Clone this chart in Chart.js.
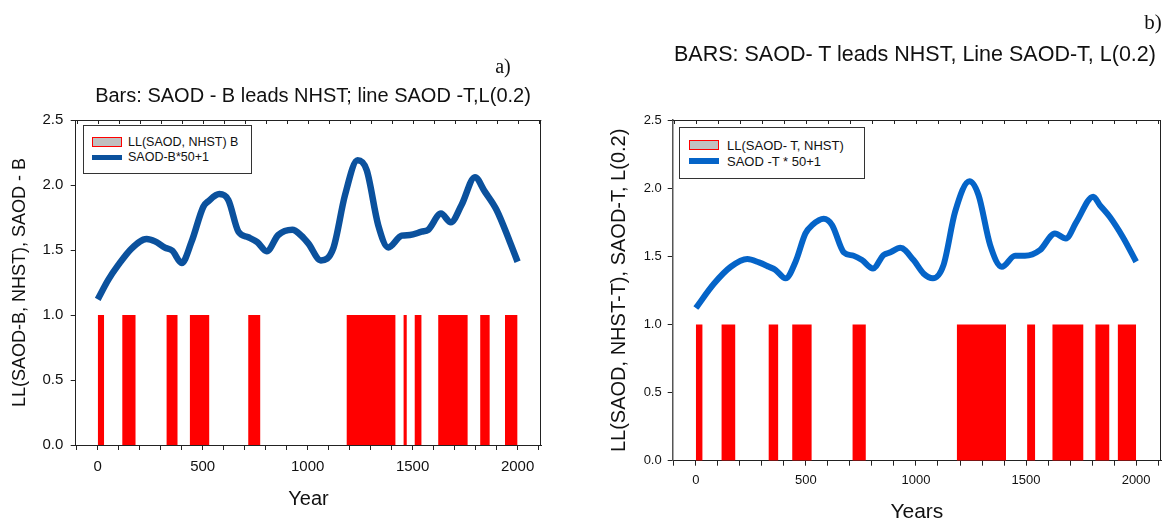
<!DOCTYPE html>
<html><head><meta charset="utf-8">
<script src="https://cdn.jsdelivr.net/npm/chart.js@4.4.1/dist/chart.umd.min.js"></script>
<style>
body{margin:0;background:#fff;}
#wrap{position:relative;width:1167px;height:523px;overflow:hidden;font-family:"Liberation Sans",Arial,sans-serif;color:#111;background:#fff;}
canvas{position:absolute;top:0;}
.t{position:absolute;white-space:nowrap;line-height:1;transform:translate(-50%,-50%);}
.serif{font-family:"Liberation Serif","Times New Roman",serif;}
.lt{position:absolute;white-space:nowrap;line-height:1;transform:translateY(-50%);}
.box{position:absolute;border:1px solid #333;box-sizing:border-box;background:#fff;}
.sw{position:absolute;box-sizing:border-box;}
</style>
</head><body>
<div id="wrap">
  <canvas id="c1" width="590" height="523" style="left:0"></canvas>
  <canvas id="c2" width="577" height="523" style="left:590px"></canvas>

  <div class="t serif" style="left:503px;top:66px;font-size:20px;">a)</div>
  <div class="t" style="left:313px;top:95px;font-size:20px;">Bars: SAOD - B leads NHST; line SAOD -T,L(0.2)</div>
  <div class="t serif" style="left:1153px;top:22px;font-size:21px;">b)</div>
  <div class="t" style="left:915px;top:55px;font-size:21.5px;">BARS: SAOD- T leads NHST, Line SAOD-T, L(0.2)</div>

  <div class="box" style="left:83px;top:125px;width:169px;height:49px;"></div>
  <div class="sw" style="left:92px;top:137px;width:30px;height:10px;background:#c0c0c0;border:1px solid #ff0000;"></div>
  <div class="sw" style="left:92px;top:154.5px;width:30px;height:5px;background:#0b519d;"></div>
  <div class="lt" style="left:128px;top:142px;font-size:12.5px;">LL(SAOD, NHST) B</div>
  <div class="lt" style="left:128px;top:157px;font-size:12.5px;">SAOD-B*50+1</div>

  <div class="box" style="left:679px;top:127px;width:186px;height:52px;"></div>
  <div class="sw" style="left:689px;top:140px;width:30px;height:9.5px;background:#c0c0c0;border:1px solid #ff0000;"></div>
  <div class="sw" style="left:689px;top:158px;width:30px;height:5.5px;background:#0564c8;"></div>
  <div class="lt" style="left:727px;top:145px;font-size:13px;">LL(SAOD- T, NHST)</div>
  <div class="lt" style="left:727px;top:161px;font-size:13px;">SAOD -T * 50+1</div>
</div>
<script>
// ---------- DATA ----------
// Panel a) : significant-lead intervals (value 1) in years
const leftBarStart = [0, 117, 328, 439, 717, 1186, 1457, 1510, 1622, 1822, 1940];
const leftBarEnd   = [30, 180, 380, 531, 774, 1418, 1472, 1542, 1762, 1867, 2000];
// Panel a) : SAOD-B*50+1 curve
const leftYears = [0, 50, 98, 162, 233, 273, 320, 355, 400, 447, 503, 527, 579, 622, 670, 717, 760, 805, 860, 927, 970, 1003, 1063, 1122, 1178, 1238, 1281, 1336, 1384, 1448, 1487, 1543, 1574, 1635, 1682, 1733, 1797, 1844, 1900, 1963, 2000];
const leftVals  = [1.12, 1.27, 1.385, 1.513, 1.585, 1.566, 1.518, 1.495, 1.40, 1.564, 1.833, 1.875, 1.93, 1.885, 1.641, 1.598, 1.56, 1.49, 1.615, 1.655, 1.61, 1.551, 1.42, 1.513, 1.923, 2.19, 2.115, 1.692, 1.52, 1.61, 1.615, 1.641, 1.655, 1.78, 1.713, 1.846, 2.06, 1.949, 1.808, 1.564, 1.41];

// Panel b) : significant-lead intervals
const rightBarStart = [0, 117, 331, 438, 712, 1186, 1505, 1620, 1815, 1917];
const rightBarEnd   = [30, 179, 374, 526, 772, 1409, 1541, 1760, 1878, 2000];
// Panel b) : SAOD-T*50+1 curve
const rightYears = [0, 83, 159, 234, 287, 332, 362, 408, 453, 498, 529, 581, 619, 672, 717, 755, 805, 853, 884, 929, 989, 1034, 1077, 1125, 1178, 1243, 1284, 1337, 1390, 1450, 1495, 1563, 1631, 1681, 1729, 1805, 1835, 1880, 1940, 2000];
const rightVals  = [1.12, 1.30, 1.423, 1.48, 1.455, 1.423, 1.40, 1.338, 1.46, 1.668, 1.729, 1.775, 1.729, 1.529, 1.504, 1.472, 1.411, 1.509, 1.529, 1.562, 1.472, 1.374, 1.338, 1.435, 1.827, 2.05, 1.949, 1.582, 1.423, 1.504, 1.504, 1.545, 1.668, 1.631, 1.753, 1.937, 1.876, 1.79, 1.64, 1.46];

// Axis settings
const xMin = -105, xMax = 2113, xStep = 100, xLabelEvery = 500;
const yMin = 0, yMax = 2.5, yStep = 0.5;

// ---------- BUILD ----------
function barPoints(starts, ends) {
  const pts = [];
  starts.forEach((s, i) => {
    pts.push({x: s, y: 0}, {x: s, y: 1}, {x: ends[i], y: 1}, {x: ends[i], y: 0});
  });
  return pts;
}
function linePoints(xs, ys) { return xs.map((x, i) => ({x, y: ys[i]})); }

const FONT = '"Liberation Sans", Arial, sans-serif';

const framePlugin = {
  id: 'frame',
  afterDatasetsDraw(chart, args, opts) {
    const {ctx, chartArea: a, scales: {x}} = chart;
    ctx.save();
    ctx.strokeStyle = opts.color || '#222';
    ctx.lineWidth = 1;
    ctx.beginPath();
    ctx.moveTo(a.left, Math.round(a.top) + 0.5); ctx.lineTo(a.right, Math.round(a.top) + 0.5);
    ctx.moveTo(Math.round(a.right) - 0.5, a.top); ctx.lineTo(Math.round(a.right) - 0.5, a.bottom);
    x.ticks.forEach(t => {
      const px = Math.round(x.getPixelForValue(t.value)) + 0.5;
      ctx.moveTo(px, a.top); ctx.lineTo(px, a.top + 4);
    });
    ctx.stroke();
    ctx.restore();
  }
};

function makeChart(id, cfg) {
  return new Chart(document.getElementById(id), {
    type: 'line',
    data: {
      datasets: [
        {label: cfg.lineLabel, data: linePoints(cfg.years, cfg.vals), borderColor: cfg.lineColor,
         borderWidth: cfg.lineWidth, pointRadius: 0, fill: false, cubicInterpolationMode: 'monotone',
         borderCapStyle: 'butt', borderJoinStyle: 'round', order: 1},
        {label: cfg.barLabel, data: barPoints(cfg.starts, cfg.ends), borderColor: 'rgba(0,0,0,0)',
         borderWidth: 1, pointRadius: 0, fill: 'origin', backgroundColor: '#ff0000', tension: 0, order: 2}
      ]
    },
    options: {
      responsive: false, animation: false, events: [],
      layout: {padding: {left: 0, top: cfg.areaTop, right: cfg.padRight, bottom: 0}},
      plugins: {legend: {display: false}, tooltip: {enabled: false}, frame: {color: '#222'}},
      scales: {
        x: {
          type: 'linear', min: xMin, max: xMax,
          afterFit(s) { s.height = cfg.xHeight; },
          ticks: {stepSize: xStep, autoSkip: false, maxRotation: 0, minRotation: 0, includeBounds: false,
                  padding: cfg.xTickPad, color: '#111', font: {family: FONT, size: cfg.tickSize},
                  callback: v => (v % xLabelEvery === 0 ? String(v) : '')},
          grid: {drawOnChartArea: false, drawTicks: true, tickLength: 5, color: '#222', tickColor: '#222', tickWidth: 1},
          border: {display: true, color: '#222', width: 1},
          title: {display: true, text: cfg.xTitle, color: '#111', font: {family: FONT, size: cfg.xTitleSize, lineHeight: 1},
                  padding: {top: 0, bottom: cfg.xTitlePad}}
        },
        y: {
          min: yMin, max: yMax,
          afterFit(s) { s.width = cfg.yWidth; },
          ticks: {stepSize: yStep, padding: cfg.yTickPad, color: '#111', font: {family: FONT, size: cfg.tickSize},
                  callback: v => Number(v).toFixed(1)},
          grid: {drawOnChartArea: false, drawTicks: true, tickLength: 5, color: '#222', tickColor: '#222'},
          border: {display: true, color: cfg.yAxisColor, width: cfg.yAxisWidth},
          title: {display: true, text: cfg.yTitle, color: '#111', font: {family: FONT, size: cfg.yTitleSize, lineHeight: 1},
                  padding: {top: cfg.yTitlePad, bottom: 0}}
        }
      }
    },
    plugins: [framePlugin]
  });
}

makeChart('c1', {
  years: leftYears, vals: leftVals, starts: leftBarStart, ends: leftBarEnd,
  lineLabel: 'SAOD-B*50+1', barLabel: 'LL(SAOD, NHST) B',
  lineColor: '#0b519d', lineWidth: 6.5,
  areaTop: 120, padRight: 48.7, xHeight: 78, yWidth: 75.7,
  tickSize: 15, xTickPad: 8, yTickPad: 7.4,
  xTitle: 'Year', xTitleSize: 20, xTitlePad: 14,
  yTitle: 'LL(SAOD-B, NHST), SAOD - B', yTitleSize: 18, yTitlePad: 11,
  yAxisColor: '#222', yAxisWidth: 1
});

makeChart('c2', {
  years: rightYears, vals: rightVals, starts: rightBarStart, ends: rightBarEnd,
  lineLabel: 'SAOD -T * 50+1', barLabel: 'LL(SAOD- T, NHST)',
  lineColor: '#0564c8', lineWidth: 6,
  areaTop: 120, padRight: 6, xHeight: 62.3, yWidth: 82.7,
  tickSize: 13, xTickPad: 7, yTickPad: 6,
  xTitle: 'Years', xTitleSize: 21, xTitlePad: 0,
  yTitle: 'LL(SAOD, NHST-T), SAOD-T, L(0.2)', yTitleSize: 20, yTitlePad: 19.5,
  yAxisColor: '#555', yAxisWidth: 1.5
});
</script>
</body></html>
